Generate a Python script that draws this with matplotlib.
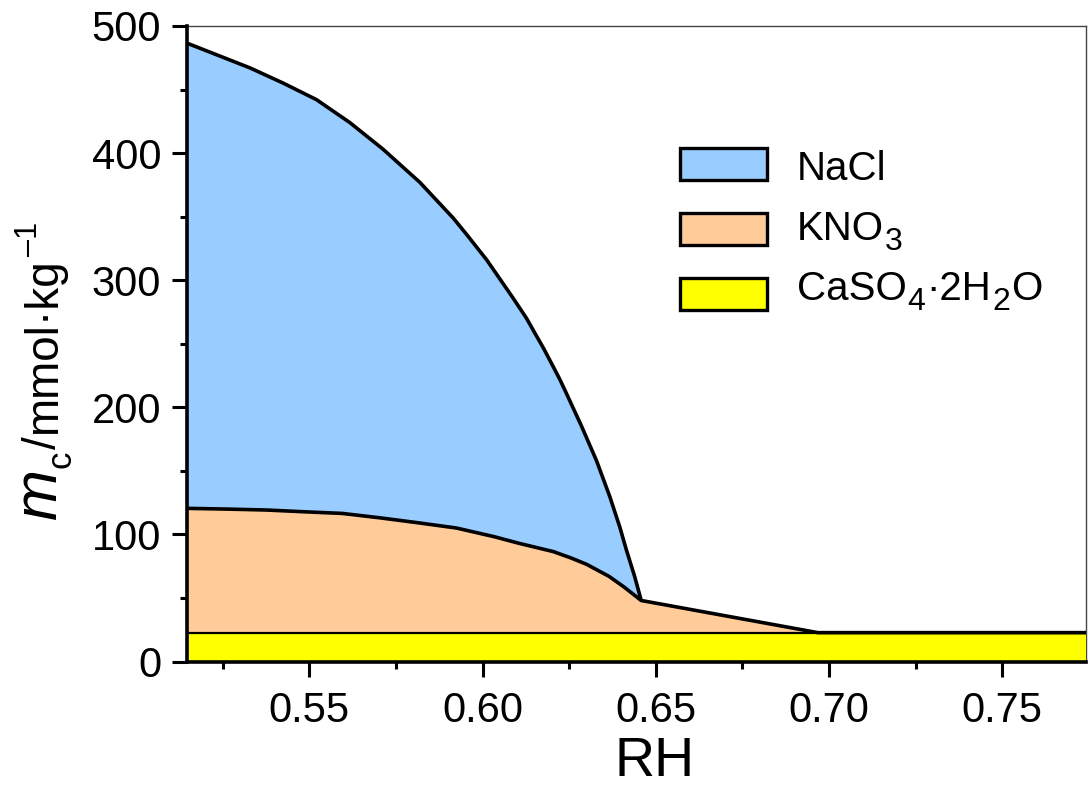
import matplotlib
matplotlib.use("Agg")
import matplotlib.pyplot as plt
from matplotlib.patches import Patch
from matplotlib.ticker import MultipleLocator

plt.rcParams['font.family'] = ['Liberation Sans', 'DejaVu Sans']

# ---- data ----
rh_nacl = [0.5147, 0.5329, 0.5425, 0.5521, 0.5617, 0.5713, 0.5819, 0.5867,
           0.5915, 0.5954, 0.5983, 0.6012, 0.6050, 0.6088, 0.6127, 0.6156,
           0.6175, 0.6204, 0.6223, 0.6242, 0.6286, 0.6329, 0.6367, 0.6396,
           0.6415, 0.6439, 0.6458]
m_nacl = [486.5, 467, 455, 442, 424, 403, 377, 363,
          349, 336, 326, 316, 301, 286, 270, 256,
          247, 232, 222, 211, 185, 158, 130, 106,
          88, 67, 48]

rh_kno3 = [0.5146, 0.5265, 0.5375, 0.5485, 0.5595, 0.5705, 0.5815, 0.5925,
           0.6035, 0.6105, 0.6204, 0.6255, 0.6300, 0.6365, 0.6409, 0.6458,
           0.6968, 0.7742]
m_kno3 = [120.5, 119.9, 119.2, 117.8, 116.5, 113, 109.1, 105,
          98.1, 93, 86.5, 81.5, 76.5, 67, 58.5, 48,
          22.7, 22.7]

rh_caso4 = [0.5146, 0.7742]
m_caso4 = [22.7, 22.7]

colors = ['#99CCFF', '#FFCC99', '#FFFF00']
# legend labels as (text, kind) segments: kind 'n' normal, 's' subscript
label_segments = [
    [('NaCl', 'n')],
    [('KNO', 'n'), ('3', 's')],
    [('CaSO', 'n'), ('4', 's'), ('·2H', 'n'), ('2', 's'), ('O', 'n')],
]

x_ticks = [0.55, 0.60, 0.65, 0.70, 0.75]
y_ticks = [0, 100, 200, 300, 400, 500]

W, H = 1088, 788
fig = plt.figure(figsize=(W/100, H/100), dpi=100)
ax = fig.add_axes([186.7/W, 1-661.5/H, (1086-186.7)/W, (661.5-26)/H])

ax.fill_between(rh_nacl, 0, m_nacl, facecolor=colors[0], edgecolor='none', zorder=1)
ax.fill_between(rh_kno3, 0, m_kno3, facecolor=colors[1], edgecolor='none', zorder=2)
ax.fill_between(rh_caso4, 0, m_caso4, facecolor=colors[2], edgecolor='none', zorder=3)

ax.plot(rh_caso4, m_caso4, color='black', lw=1.6, zorder=4)
ax.plot(rh_nacl, m_nacl, color='black', lw=2.6, zorder=5,
        solid_joinstyle='round', solid_capstyle='butt')
ax.plot(rh_kno3, m_kno3, color='black', lw=2.6, zorder=5,
        solid_joinstyle='round', solid_capstyle='butt')

ax.set_xlim(0.5146, 0.7742)
ax.set_ylim(0, 500)
ax.set_xticks(x_ticks)
ax.set_xticklabels([f'{v:.2f}' for v in x_ticks])
ax.set_yticks(y_ticks)
ax.xaxis.set_minor_locator(MultipleLocator(0.025))
ax.yaxis.set_minor_locator(MultipleLocator(50))

ax.tick_params(axis='both', which='major', direction='out', length=10.5, width=2.2,
               labelsize=30, color='black')
ax.tick_params(axis='both', which='minor', direction='out', length=4.8, width=2.2,
               color='black')
ax.tick_params(axis='y', which='major', pad=8)
ax.tick_params(axis='x', which='major', pad=11)

for s in ['left', 'bottom']:
    ax.spines[s].set_linewidth(2.6)
    ax.spines[s].set_color('black')
    ax.spines[s].set_zorder(6)
for s in ['top', 'right']:
    ax.spines[s].set_linewidth(1.0)
    ax.spines[s].set_color('#444444')

# x label
fig.text(655/W, 1-776/H, 'RH', fontsize=40, ha='center', va='baseline')

renderer = fig.canvas.get_renderer()

# y label (rotated, built from segments along the reading direction)
bx = 56            # baseline x (pixels from left)
ypos = H - 519     # start (display coords, from bottom)
ylab = [('m', 44, 'italic', 0, 0), ('c', 25, 'normal', 15, 2),
        ('/', 33, 'normal', 0, 2), ('mmol·kg', 33, 'normal', 0, 2),
        ('–1', 22, 'normal', -19, 0)]
for txt, fs, st, dx, gap in ylab:
    t = fig.text((bx + dx)/W, ypos/H, txt, fontsize=fs, style=st, rotation=90,
                 rotation_mode='anchor', ha='left', va='baseline')
    ypos += t.get_window_extent(renderer).height + gap

# legend: patches from the library, labels composed with real subscripts
handles = [Patch(facecolor=c, edgecolor='black', lw=2.4) for c in colors]
fs_px = 29*100/72
ax.legend(handles, ['', '', ''], loc='upper left',
          bbox_to_anchor=(680/W, 1-148/H), bbox_transform=fig.transFigure,
          frameon=False, fontsize=29, handlelength=87/fs_px,
          handleheight=33/fs_px, handletextpad=0, labelspacing=27/fs_px,
          borderpad=0, borderaxespad=0)

baselines = [180, 240, 300]
for segs, yb in zip(label_segments, baselines):
    x = 797
    for txt, kind in segs:
        if kind == 'n':
            t = fig.text(x/W, 1-yb/H, txt, fontsize=29, ha='left', va='baseline')
        else:
            t = fig.text(x/W, 1-(yb+10)/H, txt, fontsize=23, ha='left', va='baseline')
        x += t.get_window_extent(renderer).width + 1

fig.savefig('out.png', dpi=100)
